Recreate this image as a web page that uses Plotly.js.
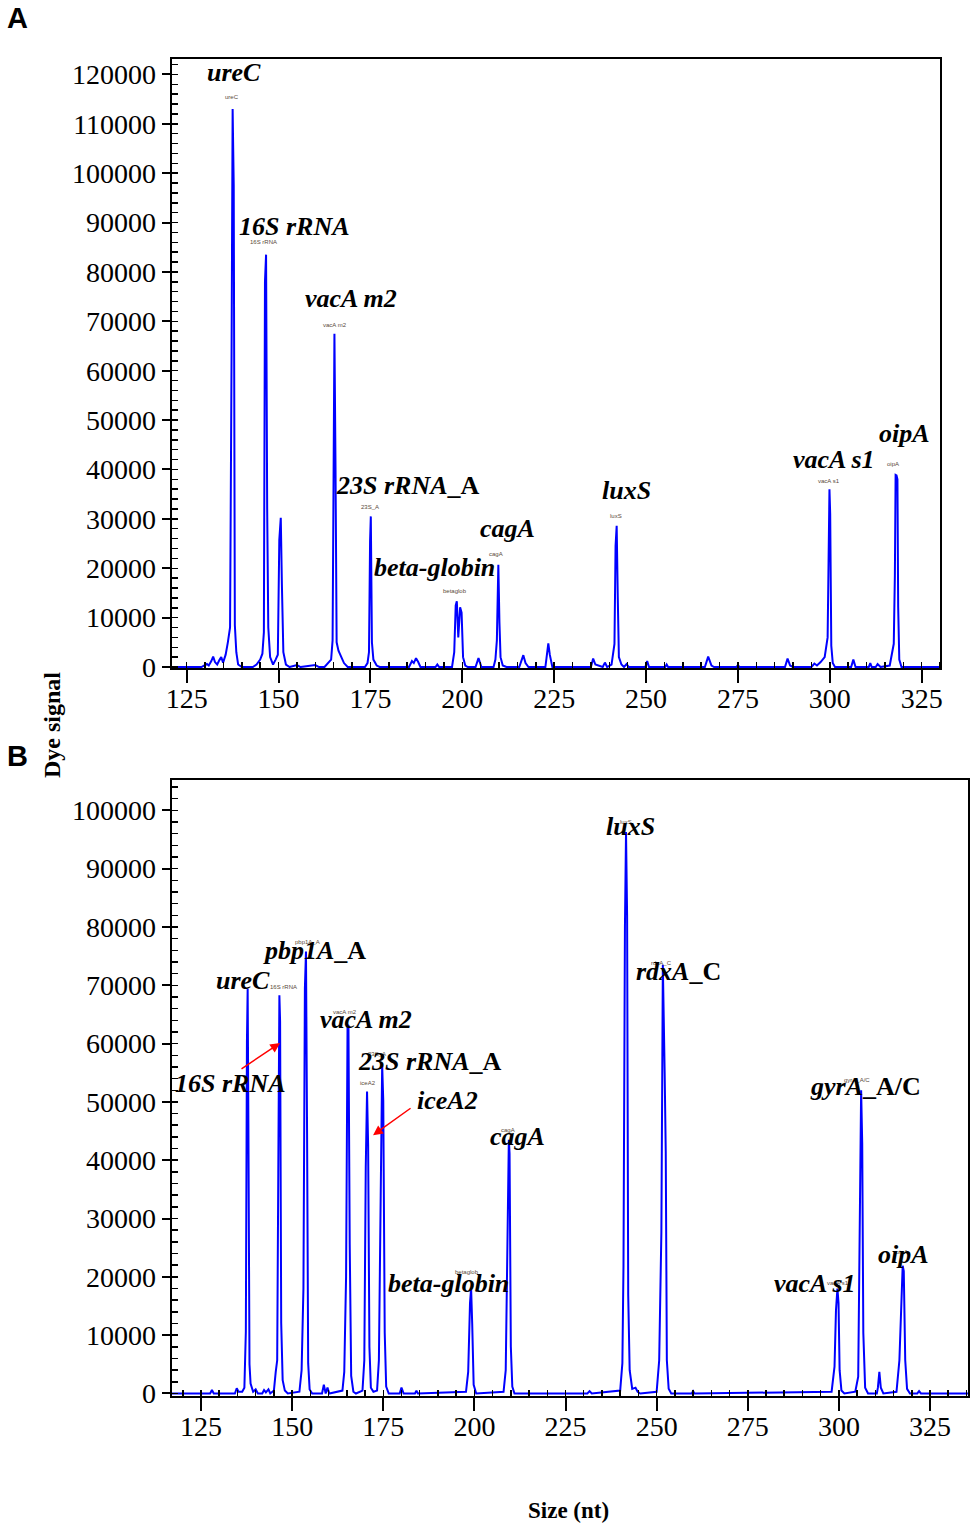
<!DOCTYPE html>
<html>
<head>
<meta charset="utf-8">
<script src="https://cdn.plot.ly/plotly-3.0.1.min.js"></script>
<style>html,body{margin:0;padding:0;background:#fff;}#chart{width:975px;height:1530px;}</style>
</head>
<body>
<div id="chart"></div>
<script>
// ---------- Panel A data (size in nt, dye signal) ----------
const topSize = [121.0,129.0,130.5,131.0,131.7,132.2,132.7,133.3,133.9,134.4,134.9,135.6,136.2,136.8,137.2,137.5,137.8,138.1,138.5,139.0,140.0,
  143.0,144.0,145.0,145.6,146.0,146.3,146.6,146.9,147.2,147.7,148.5,149.2,149.8,150.2,150.6,150.9,151.3,152.0,153.0,155.0,156.0,160.0,161.0,
  162.5,163.5,164.3,164.7,165.0,165.2,165.5,165.8,166.3,167.0,167.8,168.8,173.5,174.2,174.6,174.9,175.1,175.4,175.8,176.7,177.5,
  185.5,186.3,186.8,187.4,188.0,188.6,192.7,193.2,193.7,197.2,197.8,198.2,198.5,198.9,199.4,199.8,200.2,200.8,201.5,203.6,204.4,205.2,
  208.5,209.0,209.4,209.6,209.8,210.1,210.4,211.0,212.0,215.5,216.1,216.6,217.2,218.0,222.6,223.1,223.4,223.8,224.5,
  235.0,235.6,236.2,238.2,238.8,239.4,240.6,241.4,241.7,242.0,242.3,242.6,243.3,244.0,244.7,245.3,249.8,250.3,250.8,255.2,255.6,256.0,
  266.0,266.9,267.8,268.5,274.6,275.0,275.4,287.8,288.5,289.2,290.0,295.0,295.8,296.5,297.5,298.6,299.4,299.7,299.9,300.1,300.4,300.8,301.4,
  305.8,306.4,307.0,310.6,311.0,311.4,312.5,313.0,313.8,316.3,317.4,317.7,317.9,318.15,318.4,318.6,318.9,319.5,330.0];
const topSignal = [0,0,600,300,1200,2100,1000,500,1400,2000,900,2500,5000,8000,62000,113000,97500,8500,3000,500,0,
  0,500,1500,2700,7000,78000,83500,32000,8000,2000,500,1500,2500,25700,30200,16800,3000,500,0,400,0,400,0,
  0,800,1500,5400,60000,67500,40000,5000,3300,2000,800,0,0,800,3000,25500,30500,5000,1500,300,0,
  0,1200,800,1800,1000,0,0,500,0,0,3000,12500,13300,6000,12100,11000,2000,300,0,0,1800,0,
  0,1500,5400,20000,20700,9000,2000,300,0,0,1500,2400,800,0,0,3000,4800,2500,0,
  0,1700,500,0,900,0,500,4700,24500,28600,14100,2000,500,0,600,0,0,1200,0,0,500,0,
  0,2100,300,0,0,400,0,0,1700,300,0,0,700,300,1000,2000,6000,25200,36000,31000,4300,800,0,
  0,1500,0,0,800,0,0,600,0,300,4700,18500,38900,38800,38000,12100,1500,0,0];

// ---------- Panel B data ----------
const botSize = [117.0,127.5,128.0,128.5,134.3,134.8,135.3,136.3,136.9,137.3,137.6,137.8,138.0,138.3,138.6,139.3,140.0,140.6,
  141.8,142.3,142.8,143.5,144.0,145.0,145.5,145.9,146.2,146.5,146.7,147.0,147.4,148.0,148.8,
  152.0,152.6,153.1,153.5,153.8,154.1,154.4,154.8,155.5,158.2,158.7,159.2,159.7,160.2,
  163.8,164.3,164.8,165.2,165.45,165.8,166.2,166.8,167.5,169.3,169.8,170.2,170.55,170.85,171.2,171.6,172.3,
  173.3,173.8,174.3,174.7,175.0,175.4,175.8,176.5,179.5,180.0,180.6,183.7,184.1,184.5,
  197.7,198.3,198.8,199.1,199.4,199.8,200.5,208.0,208.6,209.1,209.45,209.65,210.0,210.4,211.0,
  231.0,231.6,232.2,240.0,240.6,240.9,241.3,241.6,241.9,242.2,242.6,243.3,244.2,244.8,245.5,
  250.0,250.7,251.3,251.7,251.95,252.2,252.5,252.8,253.3,254.0,259.6,260.0,260.4,
  298.0,298.8,299.2,299.6,299.9,300.2,300.7,301.5,304.5,305.3,305.8,306.1,306.4,306.7,307.2,308.0,
  310.4,310.7,311.1,311.5,312.2,315.8,316.6,317.1,317.5,317.8,318.2,318.7,319.5,321.5,322.0,322.5,335.4];
const botSignal = [0,0,600,0,0,900,300,300,1000,10600,60300,69400,46300,5000,1700,300,700,0,
  0,600,200,700,0,500,3700,5700,37800,68300,63800,12100,2300,500,0,
  300,4000,18000,69500,75800,44600,5200,700,0,0,1500,0,1000,0,
  500,3700,20000,63000,63200,25500,3000,300,0,500,5700,38900,51800,42600,8000,1000,300,
  500,5700,34000,56300,50300,10400,1200,0,0,1000,0,0,500,0,
  300,3700,15500,18000,12000,1500,0,300,4000,24600,43500,41200,8000,1200,0,
  0,400,0,500,5200,21700,80000,96300,82000,16900,4000,800,1000,300,0,
  300,5700,27700,73500,60000,55000,41500,5700,800,0,0,400,0,
  300,4600,14300,18000,15500,4000,500,0,300,2900,44000,52000,42900,10400,1000,0,
  0,1000,3700,1000,0,300,5700,15500,21900,21000,5700,800,0,0,400,0,0];

// ---------- Labels ----------
const topLabels  = ['<i>ureC</i>','<i>16S rRNA</i>','<i>vacA m2</i>','<i>23S rRNA</i>_A','<i>beta-globin</i>','<i>cagA</i>','<i>luxS</i>','<i>vacA s1</i>','<i>oipA</i>'];
const topLabelX  = [137.9,154.2,169.7,185.2,192.3,212.2,244.8,301.1,320.4];
const topLabelY  = [120300,89300,74700,36700,20100,28100,35800,42100,47200];
const topTags    = ['ureC','16S rRNA','vacA m2','23S_A','betaglob','cagA','luxS','vacA s1','oipA'];
const topTagX    = [137.3,146.0,165.4,174.9,198.0,209.2,241.9,299.8,317.3];
const topTagY    = [115400,86100,69300,32400,15400,22900,30600,37700,41100];

const botLabels  = ['<i>ureC</i>','<i>16S rRNA</i>','<i>pbp1A</i>_A','<i>vacA m2</i>','<i>23S rRNA</i>_A','<i>iceA2</i>','<i>cagA</i>','<i>beta-globin</i>','<i>luxS</i>','<i>rdxA</i>_C','<i>gyrA</i>_A/C','<i>vacA s1</i>','<i>oipA</i>'];
const botLabelX  = [136.5,133.2,156.0,170.3,187.8,192.5,211.7,193.0,242.7,255.9,307.2,293.5,317.6];
const botLabelY  = [70900,53100,75900,64200,57000,50300,44000,18800,97300,72300,52700,18900,23900];
const botTags    = ['16S rRNA','pbp1A_A','vacA m2','23S_A','iceA2','cagA','betaglob','luxS','rdxA_C','gyrA_A/C','vacA s1','oipA'];
const botTagX    = [147.5,154.1,164.5,173.3,170.8,209.2,198.0,241.6,251.2,305.0,299.8,317.3];
const botTagY    = [69700,77400,65400,58300,53300,45200,20800,98000,73800,53800,18900,24300];

// arrows (panel B): head and tail points
const arrowHeadX = [146.7,172.2];
const arrowHeadY = [60100,44300];
const arrowTailX = [135.7,182.9];
const arrowTailY = [55500,49100];

const xTickVals = [125,150,175,200,225,250,275,300,325];

// ---------- Build ----------
const W = 975, H = 1530;
const px = v => v / W, py = v => 1 - v / H;
const serif = 'Liberation Serif, Times New Roman, serif';

const traces = [
  {x: topSize, y: topSignal, xaxis: 'x', yaxis: 'y', type: 'scatter', mode: 'lines',
   line: {color: '#0000FF', width: 2}, hoverinfo: 'skip'},
  {x: botSize, y: botSignal, xaxis: 'x2', yaxis: 'y2', type: 'scatter', mode: 'lines',
   line: {color: '#0000FF', width: 2}, hoverinfo: 'skip'}
];

function xAxis(domain, range, anchor) {
  return {domain: domain, range: range, anchor: anchor, showgrid: false, zeroline: false,
    showline: true, linecolor: '#000', linewidth: 2, mirror: true,
    tickmode: 'array', tickvals: xTickVals, ticks: 'outside', ticklen: 13, tickwidth: 2, tickcolor: '#000',
    minor: {dtick: 5, tick0: 0, ticks: 'inside', ticklen: 6, tickwidth: 1.5, tickcolor: '#000', showgrid: false},
    tickfont: {family: serif, size: 28, color: '#000'}, ticklabelstandoff: -9};
}
function yAxis(domain, range, anchor, top) {
  const vals = [], txt = [];
  for (let v = 0; v <= top; v += 10000) { vals.push(v); txt.push(String(v)); }
  return {domain: domain, range: range, anchor: anchor, showgrid: false, zeroline: false,
    showline: true, linecolor: '#000', linewidth: 2, mirror: true,
    tickmode: 'array', tickvals: vals, ticktext: txt, ticks: 'outside', ticklen: 8, tickwidth: 2, tickcolor: '#000',
    minor: {dtick: 2000, tick0: 0, ticks: 'inside', ticklen: 6, tickwidth: 1.5, tickcolor: '#000', showgrid: false},
    tickfont: {family: serif, size: 28, color: '#000'}};
}

const annotations = [];
function addLabels(labels, xs, ys, xr, yr) {
  labels.forEach((t, i) => annotations.push({text: t, x: xs[i], y: ys[i], xref: xr, yref: yr,
    showarrow: false, xanchor: 'center', yanchor: 'middle',
    font: {family: serif, size: 26, color: '#000', weight: 'bold'}}));
}
function addTags(tags, xs, ys, xr, yr) {
  tags.forEach((t, i) => annotations.push({text: t, x: xs[i], y: ys[i], xref: xr, yref: yr,
    showarrow: false, xanchor: 'center', yanchor: 'middle',
    font: {family: 'Liberation Sans, Arial, sans-serif', size: 6, color: '#5a4a3a'}}));
}
addTags(topTags, topTagX, topTagY, 'x', 'y');
addTags(botTags, botTagX, botTagY, 'x2', 'y2');
addLabels(topLabels, topLabelX, topLabelY, 'x', 'y');
addLabels(botLabels, botLabelX, botLabelY, 'x2', 'y2');
arrowHeadX.forEach((hx, i) => annotations.push({text: '', x: hx, y: arrowHeadY[i], xref: 'x2', yref: 'y2',
  ax: arrowTailX[i], ay: arrowTailY[i], axref: 'x2', ayref: 'y2', showarrow: true,
  arrowhead: 2, arrowsize: 1.3, arrowwidth: 1.5, arrowcolor: '#FF0000'}));

annotations.push({text: 'A', x: px(17), y: py(18), xref: 'paper', yref: 'paper', showarrow: false,
  xanchor: 'center', yanchor: 'middle', font: {family: 'Liberation Sans, Arial, sans-serif', size: 29, color: '#000', weight: 'bold'}});
annotations.push({text: 'B', x: px(17), y: py(756), xref: 'paper', yref: 'paper', showarrow: false,
  xanchor: 'center', yanchor: 'middle', font: {family: 'Liberation Sans, Arial, sans-serif', size: 29, color: '#000', weight: 'bold'}});
annotations.push({text: 'Dye signal', x: px(52), y: py(725), xref: 'paper', yref: 'paper', showarrow: false,
  textangle: -90, xanchor: 'center', yanchor: 'middle', font: {family: serif, size: 24, color: '#000', weight: 'bold'}});
annotations.push({text: 'Size (nt)', x: px(568), y: py(1510), xref: 'paper', yref: 'paper', showarrow: false,
  xanchor: 'center', yanchor: 'middle', font: {family: serif, size: 23, color: '#000', weight: 'bold'}});

const layout = {
  width: W, height: H, margin: {l: 0, r: 0, t: 0, b: 0},
  paper_bgcolor: '#fff', plot_bgcolor: '#fff', showlegend: false,
  xaxis: xAxis([px(171.7), px(940)], [120.92, 329.98], 'y'),
  yaxis: yAxis([py(668), py(59.3)], [-200, 123060], 'x', 120000),
  xaxis2: xAxis([px(171.7), px(968)], [116.96, 335.42], 'y2'),
  yaxis2: yAxis([py(1396), py(780)], [-430, 105200], 'x2', 100000),
  annotations: annotations
};

Plotly.newPlot('chart', traces, layout, {displayModeBar: false, staticPlot: true});
</script>
</body>
</html>
